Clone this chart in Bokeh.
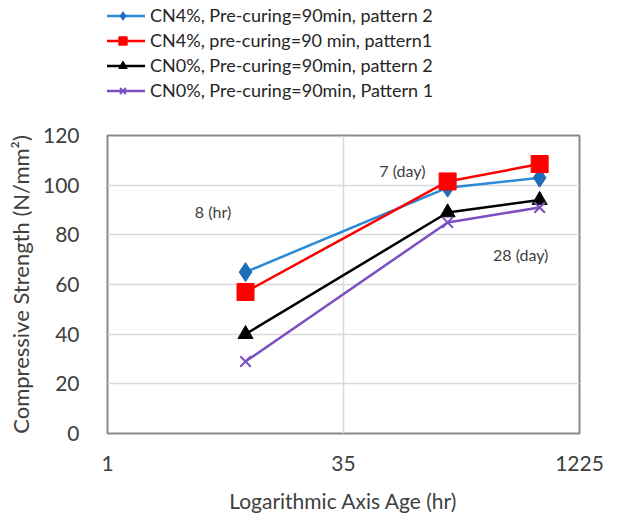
from bokeh.plotting import figure
from bokeh.layouts import column
from bokeh.models import Range1d, FixedTicker, Legend, LegendItem, ColumnDataSource
from bokeh.core.properties import value
from bokeh.embed import file_html
from bokeh.resources import INLINE

ages_hr = [8, 168, 672]
cn4_p2 = [65, 99, 103]
cn4_p1 = [57, 101.5, 108.5]
cn0_p2 = [40, 89, 94]
cn0_p1 = [29, 85, 91]
series_names = [
    "CN4%, Pre-curing=90min, pattern 2",
    "CN4%, pre-curing=90 min, pattern1",
    "CN0%, Pre-curing=90min, pattern 2",
    "CN0%, Pre-curing=90min, Pattern 1",
]
x_ticks = [1, 35, 1225]
y_ticks = [0, 20, 40, 60, 80, 100, 120]
note_text = ["8 (hr)", "7 (day)", "28 (day)"]
note_x = [4.9, 85, 505]
note_y = [89.5, 106, 72]

FONT = "Lato"
p = figure(width=620, height=395, output_backend="svg", toolbar_location=None,
           x_axis_type="log", x_range=Range1d(1, 1225), y_range=Range1d(0, 120),
           min_border_left=107, min_border_right=41, min_border_top=12, min_border_bottom=85)
p.background_fill_color = "white"
p.border_fill_color = "white"
p.outline_line_color = "#8a8a8a"
p.outline_line_width = 2

p.xaxis.ticker = FixedTicker(ticks=x_ticks)
p.xaxis.major_label_overrides = {1: "1", 35: "35", 1225: "1225"}
p.yaxis.ticker = FixedTicker(ticks=y_ticks)
p.xgrid.ticker = FixedTicker(ticks=[35])
p.ygrid.ticker = FixedTicker(ticks=[20, 40, 60, 80, 100])
p.xgrid.grid_line_color = "#d9d9d9"
p.ygrid.grid_line_color = "#d9d9d9"
p.xgrid.grid_line_width = 1.5
p.ygrid.grid_line_width = 1.5

for ax in (p.xaxis[0], p.yaxis[0]):
    ax.axis_line_color = None
    ax.major_tick_line_color = None
    ax.minor_tick_line_color = None
    ax.major_label_text_font = FONT
    ax.major_label_text_font_size = "21px"
    ax.major_label_text_color = "#404040"
    ax.axis_label_text_font = FONT
    ax.axis_label_text_font_style = "normal"
    ax.axis_label_text_color = "#404040"
p.xaxis.axis_label = "Logarithmic Axis Age (hr)"
p.yaxis.axis_label = "Compressive Strength (N/mm²)"
p.xaxis.axis_label_text_font_size = "21px"
p.yaxis.axis_label_text_font_size = "22px"
p.xaxis.major_label_standoff = 16
p.xaxis.axis_label_standoff = 14
p.yaxis.major_label_standoff = 22
p.yaxis.axis_label_standoff = 6

colors = ["#2a8ad6", "#ff0000", "#000000", "#7b4fbf"]
mcolors = ["#1f6cb8", "#ff0000", "#000000", "#7b4fbf"]
markers = ["diamond", "square", "triangle", "x"]
sizes = [19, 17, 15, 15]
data = [cn4_p2, cn4_p1, cn0_p2, cn0_p1]

# legend strip above the plot
lf = figure(width=620, height=123, output_backend="svg", toolbar_location=None,
            x_range=Range1d(-10, -9), y_range=Range1d(-10, -9),
            x_axis_location=None, y_axis_location=None,
            min_border_left=0, min_border_right=0,
            min_border_top=0, min_border_bottom=0)
lf.outline_line_color = None
lf.xgrid.visible = False
lf.ygrid.visible = False
lf.background_fill_color = "white"
lf.border_fill_color = "white"

items = []
for name, vals, c, mc, mk, sz in zip(series_names, data, colors, mcolors, markers, sizes):
    src = ColumnDataSource(dict(x=ages_hr, y=vals))
    p.line("x", "y", source=src, line_color=c, line_width=2.5)
    p.scatter("x", "y", source=src, marker=mk, size=sz, fill_color=mc,
              line_color=mc, line_width=2 if mk == "x" else 1)
    l1 = lf.line("x", "y", source=src, line_color=c, line_width=2.5)
    l2 = lf.scatter("x", "y", source=src, marker=mk, size=sz, fill_color=mc,
                    line_color=mc, line_width=2 if mk == "x" else 1)
    items.append(LegendItem(label=name, renderers=[l1, l2]))

p.text(x=note_x, y=note_y, text=note_text, text_font=value(FONT), text_font_size="16px",
       text_color="#404040", text_align="center", text_baseline="middle")

legend = Legend(items=items, location=(-7, 22), orientation="vertical")
legend.border_line_color = None
legend.background_fill_alpha = 0
legend.label_text_font = FONT
legend.label_text_font_size = "18px"
legend.label_text_color = "#262626"
legend.glyph_width = 45
legend.glyph_height = 21
legend.label_height = 21
legend.spacing = 3
legend.padding = 0
legend.margin = 0
legend.label_standoff = 5
lf.add_layout(legend, "center")

layout = column(lf, p, spacing=0)
open("out.html", "w").write(file_html(layout, INLINE))
